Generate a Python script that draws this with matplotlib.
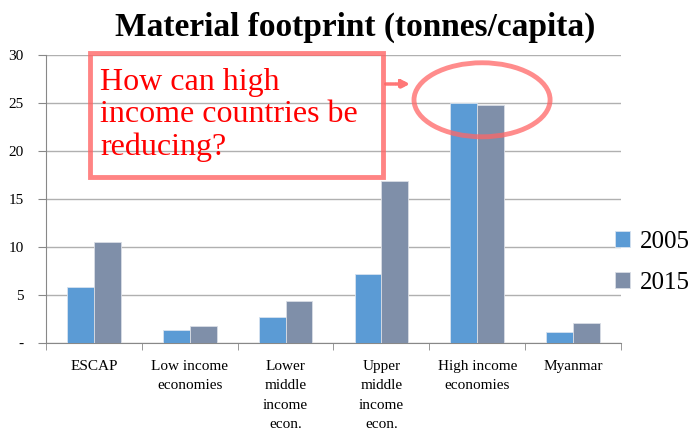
import matplotlib.pyplot as plt
import numpy as np
from matplotlib.patches import Ellipse, Rectangle

categories = ["ESCAP", "Low income\neconomies", "Lower\nmiddle\nincome\necon.",
              "Upper\nmiddle\nincome\necon.", "High income\neconomies", "Myanmar"]
years = ["2005", "2015"]
vals_2005 = [5.8, 1.35, 2.75, 7.15, 25.0, 1.15]
vals_2015 = [10.5, 1.8, 4.35, 16.85, 24.8, 2.1]
yticks = [0, 5, 10, 15, 20, 25, 30]
ytick_labels = ["-", "5", "10", "15", "20", "25", "30"]

plt.rcParams['font.family'] = ['Liberation Serif', 'DejaVu Serif']

fig = plt.figure(figsize=(6.92, 4.32), dpi=100)
ax = fig.add_axes([46/692, 1 - 343/432, 575/692, (343 - 54.6)/432])

x = np.arange(len(categories))
w = 0.28
ax.bar(x - w/2, vals_2005, w, color="#5B9BD5", edgecolor="#d6e2f0", linewidth=0.6,
       label=years[0], zorder=3)
ax.bar(x + w/2, vals_2015, w, color="#7F8FA9", edgecolor="#d9dde5", linewidth=0.6,
       label=years[1], zorder=3)

ax.set_xlim(-0.5, len(categories) - 0.5)
ax.set_ylim(0, 30)
ax.set_yticks(yticks)
ax.set_yticklabels(ytick_labels, fontsize=11)
ax.set_xticks(x)
ax.set_xticklabels(categories, fontsize=11, linespacing=1.65)
ax.set_xticks(np.arange(-0.5, len(categories)), minor=True)
ax.tick_params(axis='x', which='major', length=0, pad=12)
ax.tick_params(axis='x', which='minor', length=5, color="#888888")
ax.tick_params(axis='y', length=6, color="#888888", pad=10)
ax.grid(axis='y', color="#b0b0b0", linewidth=1, zorder=0)
for s in ["top", "right"]:
    ax.spines[s].set_visible(False)
for s in ["left", "bottom"]:
    ax.spines[s].set_color("#888888")

ax.legend(loc="center left", bbox_to_anchor=(0.99, 0.279), frameon=False,
          fontsize=18, handlelength=0.6, handleheight=0.6, handletextpad=0.4,
          labelspacing=0.75, borderaxespad=0, borderpad=0)

fig.text(0.513, 0.936, "Material footprint (tonnes/capita)", ha="center", va="center",
         fontsize=24, fontweight="bold")

# call-out box, arrow and ring
fig.patches.append(Rectangle((90/692, 1 - 177/432), 293/692, 124/432,
                             transform=fig.transFigure, fill=False,
                             edgecolor="#ff6666", alpha=0.8, linewidth=3.5))
fig.text(100/692, 1 - 115/432, "How can high\nincome countries be\nreducing?",
         color="red", fontsize=23, ha="left", va="center", linespacing=1.15)
ax.annotate("", xy=(413/692, 1 - 84/432), xytext=(383/692, 1 - 84/432),
            xycoords="figure fraction", textcoords="figure fraction",
            arrowprops=dict(arrowstyle="-|>", color="#ff7777", lw=2.5, linestyle=(0, (1, 0.5)),
                            mutation_scale=12))
ax.add_patch(Ellipse((4.05, 25.3), 1.42, 7.7, fill=False, edgecolor="#ff6666",
                     alpha=0.75, linewidth=3.5, clip_on=False, zorder=5))

fig.savefig("out.png", dpi=100)
